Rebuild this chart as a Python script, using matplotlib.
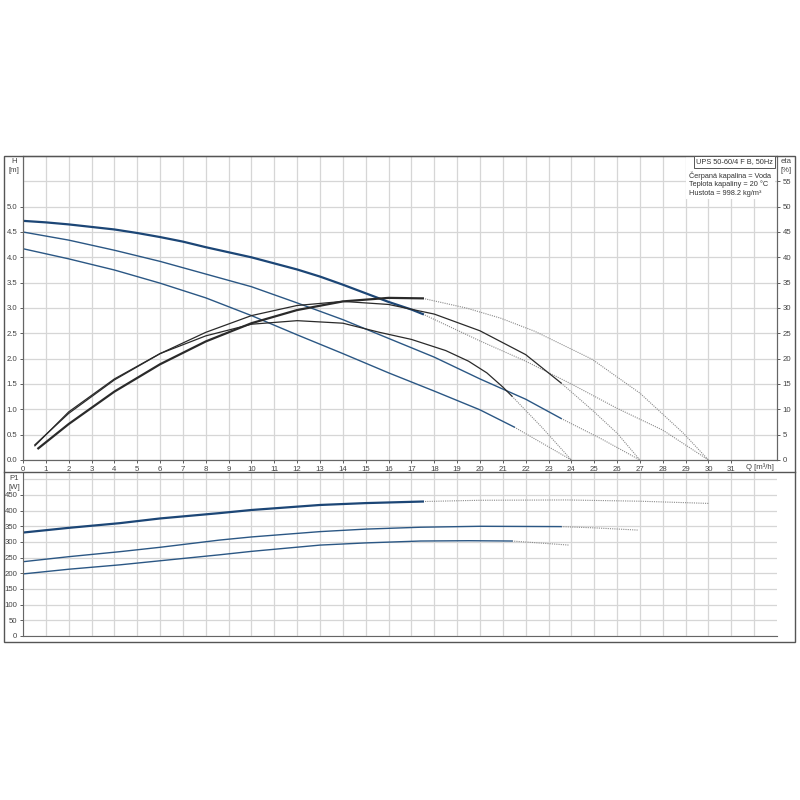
import numpy as np
import matplotlib
matplotlib.use('Agg')
import matplotlib.pyplot as plt
from matplotlib.patches import Rectangle
from matplotlib.lines import Line2D

plt.rcParams['font.family'] = ['Liberation Sans', 'DejaVu Sans']

# head curves H [m] vs Q [m3/h], three speeds (solid part + dotted extension)
h3_q = [0, 1, 2, 3, 4, 5, 6, 7, 8, 9, 10, 11, 12, 13, 14, 15, 16, 17, 17.5]
h3_h = [4.72, 4.69, 4.65, 4.6, 4.55, 4.48, 4.40, 4.31, 4.2, 4.1, 4.0, 3.88, 3.76, 3.62, 3.46, 3.29, 3.12, 2.97, 2.88]
h3_dq = [17.5, 20, 22, 24, 26, 28, 30]
h3_dh = [2.88, 2.35, 1.95, 1.5, 1.02, 0.59, 0]

h2_q = [0, 2, 4, 6, 8, 10, 12, 14, 16, 18, 20, 22, 23.55]
h2_h = [4.5, 4.34, 4.14, 3.92, 3.67, 3.42, 3.1, 2.77, 2.4, 2.03, 1.6, 1.2, 0.82]
h2_dq = [23.55, 25.3, 27]
h2_dh = [0.82, 0.42, 0]

h1_q = [0, 2, 4, 6, 8, 10, 12, 14, 16, 18, 20, 21.5]
h1_h = [4.17, 3.97, 3.75, 3.49, 3.2, 2.85, 2.47, 2.1, 1.72, 1.36, 0.99, 0.65]
h1_dq = [21.5, 24]
h1_dh = [0.65, 0]

# efficiency curves eta [%]
e3_q = [0.67, 2, 4, 6, 8, 10, 12, 14, 16, 17.5]
e3_e = [2.3, 7.1, 13.5, 18.9, 23.4, 27.0, 29.6, 31.3, 32.0, 31.9]
e3_dq = [17.5, 19.4, 20.9, 22.4, 24.9, 27, 28.9, 30]
e3_de = [31.9, 30.0, 28.0, 25.4, 19.9, 13.2, 5.3, 0]

e2_q = [0.52, 2, 4, 6, 8, 10, 12, 14, 16, 18, 20, 22, 23.55]
e2_e = [3.0, 9.2, 15.8, 21.0, 25.2, 28.5, 30.5, 31.3, 30.7, 28.8, 25.5, 20.8, 15.2]
e2_dq = [23.55, 24.9, 26, 27]
e2_de = [15.2, 9.9, 5.3, 0]

e1_q = [0.52, 2, 4, 6, 8, 10, 12, 14, 15.6, 17, 18.5, 19.5, 20.3, 21, 21.4]
e1_e = [2.8, 9.5, 16.0, 21.0, 24.5, 26.8, 27.5, 27.0, 25.2, 23.8, 21.6, 19.5, 17.2, 14.4, 12.6]
e1_dq = [21.4, 22.7, 24]
e1_de = [12.6, 6.5, 0]

# power input P1 [W]
p3_q = [0, 2, 4.24, 6, 8.6, 10, 13, 15, 17.5]
p3_p = [330, 345, 360, 375, 392, 402, 418, 424, 429]
p3_dq = [17.5, 20, 23.8, 27, 30]
p3_dp = [429, 433, 434, 430, 423]

p2_q = [0, 2, 4.24, 6, 8.6, 10, 13, 15, 17.4, 20, 23.55]
p2_p = [237, 253, 269, 283, 306, 316, 333, 341, 347, 350, 349]
p2_dq = [23.55, 25, 26.9]
p2_dp = [349, 345, 338]

p1_q = [0, 2, 4.24, 6, 8.6, 10, 13, 15, 17.4, 19.5, 21.4]
p1_p = [198, 213, 227, 240, 259, 270, 290, 297, 303, 304, 303]
p1_dq = [21.4, 23.9]
p1_dp = [303, 290]

BLUE = '#2b5784'
BLUE_DK = '#1c4676'
BLACK = '#2a2a2a'
DOT = '#8a8a8a'
GRID = '#d6d6d6'
FS = 5.6
FS_INFO = 5.3


def style_axes(ax):
    ax.set_xlim(0, 33)
    ax.set_xticks(np.arange(0, 32, 1))
    ax.set_xticks([32], minor=True)
    ax.grid(True, which='both', color=GRID, lw=0.9)
    ax.set_axisbelow(True)
    for s in ax.spines.values():
        s.set_color('#666666')
        s.set_linewidth(0.8)
    ax.tick_params(which='major', labelsize=FS, colors='#444444', length=2.5, width=0.6, pad=1.5)
    ax.tick_params(which='minor', length=0)


def main():
    fig = plt.figure(figsize=(8, 8), dpi=100)

    # upper panel: head + efficiency
    ax = fig.add_axes([23 / 800, 1 - 460 / 800, 754 / 800, 304 / 800])
    style_axes(ax)
    ax.set_ylim(0, 6)
    ax.set_yticks(np.arange(0, 5.01, 0.5))
    ax.set_yticks([5.5], minor=True)
    ax.set_yticklabels(['%.1f' % v for v in np.arange(0, 5.01, 0.5)])
    ax.set_xticklabels([str(i) for i in range(32)])

    dot = dict(color=DOT, lw=0.8, ls=(0, (1, 1)))
    ax.plot(h3_dq, h3_dh, **dot)
    ax.plot(h2_dq, h2_dh, **dot)
    ax.plot(h1_dq, h1_dh, **dot)
    ax.plot(h3_q, h3_h, color=BLUE_DK, lw=1.6)
    ax.plot(h2_q, h2_h, color=BLUE, lw=1.0)
    ax.plot(h1_q, h1_h, color=BLUE, lw=1.0)

    ax2 = ax.twinx()
    ax2.set_ylim(0, 60)
    ax2.set_yticks(np.arange(0, 56, 5))
    ax2.tick_params(labelsize=FS, colors='#444444', length=2.5, width=0.6, pad=1.5)
    for s in ax2.spines.values():
        s.set_color('#666666')
        s.set_linewidth(0.8)
    ax2.plot(e3_dq, e3_de, **dot)
    ax2.plot(e2_dq, e2_de, **dot)
    ax2.plot(e1_dq, e1_de, **dot)
    ax2.plot(e3_q, e3_e, color=BLACK, lw=1.6)
    ax2.plot(e2_q, e2_e, color=BLACK, lw=0.9)
    ax2.plot(e1_q, e1_e, color=BLACK, lw=0.9)

    # info box
    ax2.add_patch(Rectangle((686 / 800, 1 - 199 / 800), 89 / 800, 42 / 800,
                            transform=fig.transFigure, facecolor='white',
                            edgecolor='none', zorder=5))
    fig.text(773 / 800, 1 - 162 / 800, 'UPS 50-60/4 F B, 50Hz', fontsize=FS_INFO,
             ha='right', va='center', color='#333333', zorder=6,
             bbox=dict(boxstyle='square,pad=0.3', fc='white', ec='#555555', lw=0.7))
    info = ['Čerpaná kapalina = Voda', 'Teplota kapaliny = 20 °C', 'Hustota = 998.2 kg/m³']
    for i, line in enumerate(info):
        fig.text(689 / 800, 1 - (176 + 8.6 * i) / 800, line, fontsize=FS_INFO,
                 ha='left', va='center', color='#333333', zorder=6)

    fig.text(14 / 800, 1 - 166 / 800, 'H\n[m]', fontsize=FS, ha='center',
             va='center', color='#444444', linespacing=1.3)
    fig.text(786 / 800, 1 - 166 / 800, 'eta\n[%]', fontsize=FS, ha='center',
             va='center', color='#444444', linespacing=1.3)
    fig.text(760 / 800, 1 - 467 / 800, 'Q [m³/h]', fontsize=FS, ha='center',
             va='center', color='#444444')

    # lower panel: power
    bx = fig.add_axes([23 / 800, 1 - 636 / 800, 754 / 800, 163 / 800])
    style_axes(bx)
    bx.set_ylim(0, 520)
    bx.set_yticks(np.arange(0, 451, 50))
    bx.set_yticks([500], minor=True)
    bx.set_xticklabels([])
    bx.tick_params(axis='x', length=0)
    bx.spines['right'].set_visible(False)
    bx.spines['top'].set_visible(False)
    bx.plot(p3_dq, p3_dp, **dot)
    bx.plot(p2_dq, p2_dp, **dot)
    bx.plot(p1_dq, p1_dp, **dot)
    bx.plot(p3_q, p3_p, color=BLUE_DK, lw=1.6)
    bx.plot(p2_q, p2_p, color=BLUE, lw=1.0)
    bx.plot(p1_q, p1_p, color=BLUE, lw=1.0)
    fig.text(14 / 800, 1 - 483 / 800, 'P1\n[W]', fontsize=FS, ha='center',
             va='center', color='#444444', linespacing=1.3)

    # outer frame
    fig.add_artist(Rectangle((4 / 800, 1 - 642 / 800), 791 / 800, 486 / 800,
                             transform=fig.transFigure, fill=False,
                             edgecolor='#555555', lw=1.0))
    fig.add_artist(Line2D([4 / 800, 795 / 800], [1 - 472 / 800, 1 - 472 / 800],
                          transform=fig.transFigure, color='#555555', lw=1.0))

    fig.savefig('out.png', dpi=100, facecolor='white')


if __name__ == "__main__":
    main()
